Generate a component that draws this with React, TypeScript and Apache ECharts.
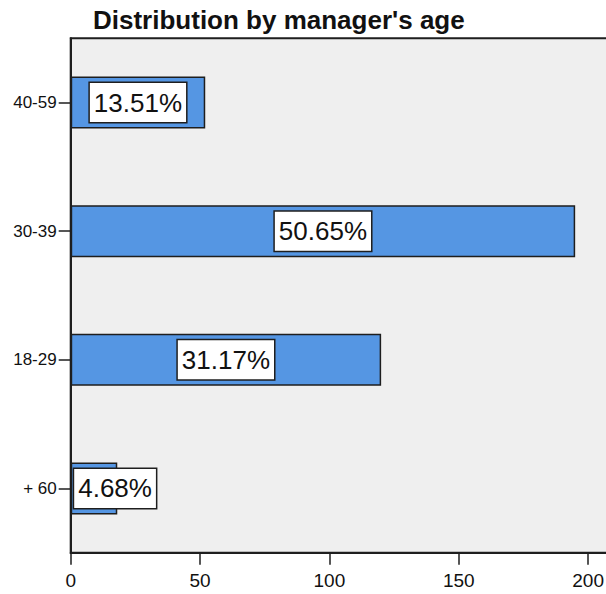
import React, { useEffect, useRef } from "react";
import * as echarts from "echarts";

// Manager age groups, bottom to top as drawn on the category axis
const categories = ["+ 60", "18-29", "30-39", "40-59"];
// Number of managers in each age group
const counts = [18, 120, 195, 52];
// Value axis ticks
const xMin = 0;
const xMax = 215;
const xInterval = 50;

const titleText = "Distribution by manager's age";

const FONT = "Arial, 'Liberation Sans', Helvetica, sans-serif";
const GRID_LEFT = 70.7;
const GRID_TOP = 38.3;
const GRID_BOTTOM = 41.3;
const PX_PER_UNIT = 2.587;
const GRID_WIDTH = xMax * PX_PER_UNIT;

const total = counts.reduce((a, b) => a + b, 0);
const pct = (v: number) => ((v / total) * 100).toFixed(2) + "%";

export default function App() {
  const ref = useRef<HTMLDivElement>(null);

  useEffect(() => {
    document.body.style.margin = "0";
    if (!ref.current) return;
    const chart = echarts.init(ref.current, null, { renderer: "svg" });
    chart.setOption({
      animation: false,
      backgroundColor: "#ffffff",
      title: {
        text: titleText,
        left: 93,
        top: 7,
        padding: 0,
        textStyle: {
          fontFamily: FONT,
          fontWeight: "bold",
          fontSize: 26,
          color: "#111111",
        },
      },
      grid: {
        left: GRID_LEFT,
        width: GRID_WIDTH,
        top: GRID_TOP,
        bottom: GRID_BOTTOM,
        show: true,
        backgroundColor: "#efefef",
        borderColor: "#1e1e1e",
        borderWidth: 2,
        containLabel: false,
        outerBoundsMode: "none",
      },
      xAxis: {
        type: "value",
        min: xMin,
        max: xMax,
        interval: xInterval,
        splitLine: { show: false },
        axisLine: { show: true, lineStyle: { color: "#1e1e1e", width: 2 } },
        axisTick: { show: true, length: 12, lineStyle: { color: "#1e1e1e", width: 1.5 } },
        axisLabel: {
          showMaxLabel: false,
          margin: 18,
          fontFamily: FONT,
          fontSize: 19,
          color: "#111111",
        },
      },
      yAxis: {
        type: "category",
        data: categories,
        axisLine: { show: true, lineStyle: { color: "#1e1e1e", width: 2 } },
        axisTick: {
          show: true,
          alignWithLabel: true,
          length: 12,
          lineStyle: { color: "#1e1e1e", width: 1.5 },
        },
        axisLabel: {
          margin: 14,
          fontFamily: FONT,
          fontSize: 17,
          color: "#111111",
        },
        splitLine: { show: false },
      },
      series: [
        {
          type: "bar",
          data: counts,
          barWidth: 52,
          itemStyle: {
            color: "#5596e3",
            borderColor: "#1e1e1e",
            borderWidth: 1.5,
          },
          label: {
            show: true,
            position: "inside",
            offset: [0, 5],
            formatter: (p: any) => pct(p.value),
            fontFamily: FONT,
            fontSize: 26,
            color: "#111111",
            backgroundColor: "#ffffff",
            borderColor: "#1e1e1e",
            borderWidth: 1.5,
            padding: [7, 4, 6, 4],
          },
          labelLayout: (params: any) => {
            // keep labels of short bars inside the plot area
            const minX = GRID_LEFT + 2;
            if (params.labelRect && params.labelRect.x < minX) {
              return { dx: minX - params.labelRect.x };
            }
            return {};
          },
        },
      ],
    });
    return () => chart.dispose();
  }, []);

  return <div ref={ref} style={{ width: 606, height: 594 }} />;
}
